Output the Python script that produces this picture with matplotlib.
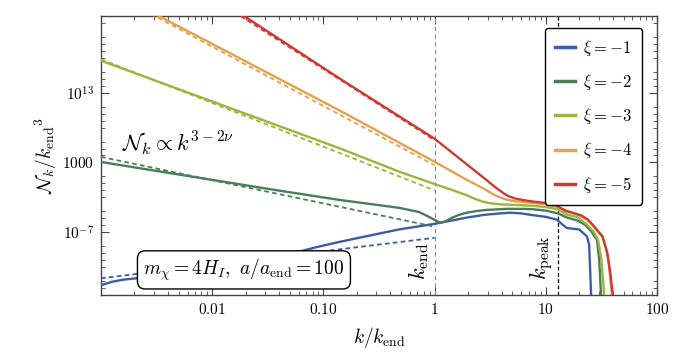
import numpy as np
import matplotlib
matplotlib.use('Agg')
import matplotlib.pyplot as plt

plt.rcParams['mathtext.fontset'] = 'cm'
plt.rcParams['font.family'] = ['DejaVu Serif']

# ---------------- data (log10 k/k_end, log10 N_k/k_end^3) ----------------
xi_labels = [r'$\xi = -1$', r'$\xi = -2$', r'$\xi = -3$', r'$\xi = -4$', r'$\xi = -5$']
colors = ['#3E5BA6', '#4B7D58', '#9BB63C', '#E2A24E', '#CC3A35']

blue_lk = [-3.0, -2.9, -2.8, -2.68, -2.3, -1.8, -1.4, -1.2, -1.05, -0.86, -0.32, 0.0,
           0.29, 0.45, 0.59, 0.68, 0.78, 0.86, 1.0, 1.10, 1.15, 1.19, 1.30, 1.37, 1.39, 1.41]
blue_lN = [-14.6, -14.1, -13.8, -13.6, -12.9, -11.8, -10.3, -9.7, -9.1, -8.4, -6.6, -5.8,
           -4.9, -4.5, -4.3, -4.2, -4.3, -4.5, -4.8, -5.2, -5.9, -6.4, -6.6, -7.6, -8.8, -17.0]

dg_lk = [-3.0, -1.44, -0.86, -0.32, -0.14, -0.05, 0.02, 0.05, 0.09, 0.16, 0.22, 0.29,
         0.38, 0.47, 0.65, 0.80, 0.88, 1.0, 1.11, 1.19, 1.28, 1.35, 1.41, 1.46, 1.48, 1.50]
dg_lN = [3.07, -0.93, -2.36, -3.5, -4.1, -4.8, -5.4, -5.6, -5.5, -4.9, -4.5, -4.2,
         -3.95, -3.8, -3.65, -3.65, -3.7, -3.9, -4.3, -4.9, -5.3, -5.9, -6.9, -8.1, -10.9, -17.0]

lg_lk = [-3.0, -0.86, -0.32, 0.0, 0.15, 0.29, 0.36, 0.43, 0.50, 0.59, 0.75, 0.88, 1.0,
         1.11, 1.19, 1.28, 1.37, 1.43, 1.47, 1.50, 1.53]
lg_lN = [17.6, 5.07, 1.7, -0.1, -0.9, -1.7, -2.2, -2.6, -2.85, -3.0, -3.1, -3.2, -3.4,
         -3.7, -4.5, -4.8, -5.9, -6.9, -8.1, -10.9, -17.0]

or_lk = [-2.6, -0.86, 0.0, 0.29, 0.40, 0.47, 0.53, 0.59, 0.65, 0.72, 0.88, 1.0, 1.11,
         1.19, 1.28, 1.37, 1.46, 1.51, 1.56, 1.60]
or_lN = [25.0, 10.5, 3.1, 0.5, -0.4, -1.0, -1.6, -2.0, -2.35, -2.55, -2.8, -3.0, -3.4,
         -4.1, -4.4, -5.2, -6.6, -7.6, -10.4, -17.0]

rd_lk = [-1.8, -0.86, 0.0, 0.30, 0.45, 0.55, 0.61, 0.66, 0.72, 0.80, 0.88, 1.0, 1.08,
         1.13, 1.18, 1.24, 1.32, 1.38, 1.42, 1.47, 1.51, 1.55, 1.58, 1.61]
rd_lN = [24.9, 15.1, 6.4, 2.6, 0.7, -0.6, -1.3, -1.8, -2.15, -2.4, -2.6, -2.8, -3.0,
         -3.5, -3.9, -4.2, -4.6, -5.2, -5.9, -6.9, -7.6, -9.8, -12.8, -17.0]

# asymptotic power laws N_k ~ k^(3-2nu), for k < k_end
dash_lk = [-3.0, 0.0]
dash_lN = [[-13.6, -7.8], [3.8, -6.2], [17.8, -1.0], [28.1, 2.6], [36.8, 6.2]]

k_end = 1.0
k_peak = 12.9

xticks = [0.01, 0.1, 1, 10, 100]
xticklabels = [r'$0.01$', r'$0.10$', r'$1$', r'$10$', r'$100$']
yticks = [1e-7, 1e3, 1e13]
yticklabels = [r'$10^{-7}$', r'$1000$', r'$10^{13}$']

# ---------------- figure ----------------
fig = plt.figure(figsize=(6.74, 3.55), dpi=100)
ax = fig.add_axes([101/674, 1-295/355, (657-101)/674, (295-16)/355])
ax.set_xscale('log')
ax.set_yscale('log')
ax.set_xlim(1e-3, 100)
ax.set_ylim(1e-16, 1e24)

solids = [(blue_lk, blue_lN), (dg_lk, dg_lN), (lg_lk, lg_lN), (or_lk, or_lN), (rd_lk, rd_lN)]
for (lk, lN), c, lab in zip(solids, colors, xi_labels):
    ax.plot(10**np.array(lk), 10**np.array(lN), color=c, lw=1.7, label=lab, zorder=3,
            solid_joinstyle='round')
for d, c in zip(dash_lN, colors):
    ax.plot(10**np.array(dash_lk), 10**np.array(d), color=c, lw=1.3, ls=(0, (2.6, 1.8)), zorder=3)

ax.axvline(k_end, color='#888888', lw=0.8, ls=(0, (4, 3)), zorder=2)
ax.axvline(k_peak, color='black', lw=0.9, ls=(0, (3, 2)), zorder=2)

# ticks
ax.set_xticks(xticks)
ax.set_xticklabels(xticklabels, fontsize=11)
minx = [m * 10.0**e for e in range(-3, 2) for m in range(2, 10)]
ax.set_xticks(minx, minor=True)
ax.set_xticklabels([], minor=True)
ax.set_yticks(yticks)
ax.set_yticklabels(yticklabels, fontsize=11)
miny = [10.0**d for d in range(-16, 25) if d not in (-7, 3, 13) and d % 5 != 2]
ax.set_yticks(miny, minor=True)
ax.set_yticklabels([], minor=True)
ax.tick_params(which='both', direction='in', top=True, right=True, color='#444444')
ax.tick_params(which='major', length=6, width=0.8, pad=5)
ax.tick_params(which='minor', length=3, width=0.6)
for s in ax.spines.values():
    s.set_color('#444444')
    s.set_linewidth(1.0)

ax.set_xlabel(r'$k/k_{\rm end}$', fontsize=14, labelpad=6)
ax.set_ylabel(r'$\mathcal{N}_k/{k_{\rm end}}^3$', fontsize=14, labelpad=2)

# annotations
ax.text(0.00155, 10**4.7, r'$\mathcal{N}_k \propto k^{3-2\nu}$', fontsize=16, zorder=4)
ax.text(0.0024, 10**-12.4, r'$m_\chi = 4H_I,\ a/a_{\rm end} = 100$', fontsize=14,
        ha='left', va='center', zorder=6,
        bbox=dict(boxstyle='round,pad=0.3,rounding_size=0.4', fc='white', ec='black', lw=1.0))
ax.text(0.93, 10**-13.9, r'$k_{\rm end}$', rotation=90, fontsize=16, ha='right', va='bottom', zorder=4)
ax.text(12.0, 10**-13.9, r'$k_{\rm peak}$', rotation=90, fontsize=16, ha='right', va='bottom', zorder=4)

leg = ax.legend(loc='upper right', bbox_to_anchor=(642/674, 1-28/355), bbox_transform=fig.transFigure,
                borderaxespad=0, fontsize=12, frameon=True, fancybox=True, framealpha=1,
                edgecolor='black', handlelength=1.2, handletextpad=0.5, labelspacing=0.85,
                borderpad=0.6)
leg.get_frame().set_linewidth(1.0)
leg.set_zorder(7)
for l in leg.get_lines():
    l.set_linewidth(2.5)

fig.savefig('out.png', dpi=100)
